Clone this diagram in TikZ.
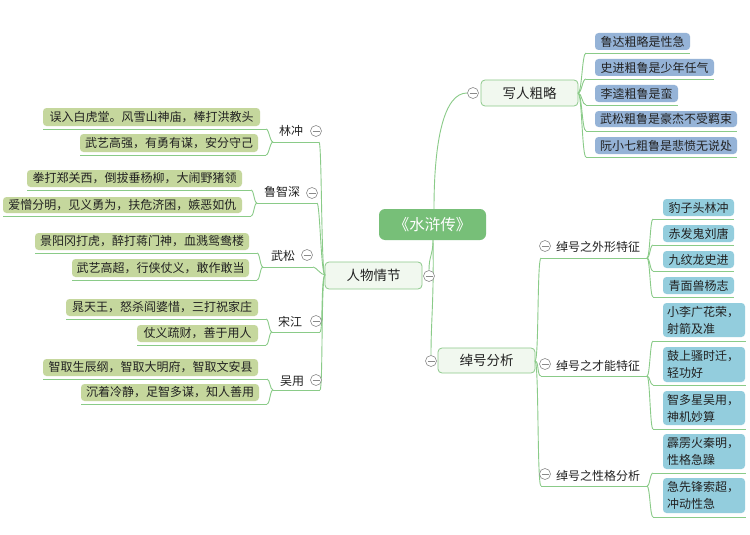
\documentclass[tikz,border=0pt]{standalone}
\usepackage{fontspec}
\setmainfont{Noto Sans CJK SC}
\usetikzlibrary{calc}
\definecolor{cCenter}{HTML}{77BF78}
\definecolor{cLine}{HTML}{8ACB88}
\definecolor{cMainFill}{HTML}{F1F8EF}
\definecolor{cMainBorder}{HTML}{8CC98A}
\definecolor{cLG}{HTML}{C5D79D}
\definecolor{cLB}{HTML}{95B3D7}
\definecolor{cLC}{HTML}{93CDDD}
\definecolor{cTxt}{HTML}{222222}
\definecolor{cFold}{HTML}{8A8A8A}
\tikzset{
  conn/.style={draw=cLine, line width=0.9pt},
  leaf/.style={rounded corners=3.5pt, inner sep=0pt, text=cTxt, font=\fontsize{12}{14}\selectfont},
  leaftwo/.style={leaf, align=left, text width=74pt, inner xsep=4pt, font=\fontsize{12}{17}\selectfont},
  mainbox/.style={draw=cMainBorder, fill=cMainFill, rounded corners=4pt, line width=0.8pt, inner sep=0pt, text=cTxt, font=\fontsize{13.5}{16}\selectfont},
  lbl/.style={inner sep=0pt, text=cTxt, font=\fontsize{12}{14}\selectfont},
  fold/.style={circle, draw=cFold, fill=white, line width=0.6pt, minimum size=11pt, inner sep=0pt},
}
% left leaf: name, x1, y1, x2, y2, underline y, underline end x, text
\newcommand\LeafL[8]{%
  \node[leaf, fill=cLG, minimum width={(#4-#2)*1pt}, minimum height={(#5-#3)*1pt}] (#1) at ({(#2+#4)/2},{(#3+#5)/2}) {#8};
  \coordinate (#1-s) at (#2,#6);
  \coordinate (#1-e) at (#7,#6);
  \draw[conn] (#1-s) -- (#1-e);
}
% right leaf: name, colour, x1, y1, x2, y2, underline y, underline start x, text
\newcommand\LeafR[9]{%
  \node[leaf, fill=#2, minimum width={(#5-#3)*1pt}, minimum height={(#6-#4)*1pt}] (#1) at ({(#3+#5)/2},{(#4+#6)/2}) {#9};
  \coordinate (#1-s) at (#8,#7);
  \coordinate (#1-e) at (#5,#7);
  \draw[conn] (#1-s) -- (#1-e);
}
\newcommand\LeafRR[9]{%
  \node[leaftwo, fill=#2, minimum width={(#5-#3)*1pt}, minimum height={(#6-#4)*1pt}] (#1) at ({(#3+#5)/2},{(#4+#6)/2}) {#9};
  \coordinate (#1-s) at (#8,#7);
  \coordinate (#1-e) at (#5+1,#7);
  \draw[conn] (#1-s) -- (#1-e);
}
% connector: from, to, dx of first control, dx of second control
\newcommand\Conn[4]{%
  \draw[conn] (#1) .. controls ($(#1)+(#3,0)$) and ($(#2)+(#4,0)$) .. (#2);
}
\newcommand\Fold[3]{%
  \node[fold] (#1) at (#2,#3) {};
  \draw[cFold, line width=0.6pt] ([xshift=-3.5pt]#1.center) -- ([xshift=3.5pt]#1.center);
}
\begin{document}
\begin{tikzpicture}[x=1pt,y=-1pt]
\useasboundingbox[fill=white] (0,0) rectangle (750,535);

% ---------- central and main branches ----------
\node[fill=cCenter, rounded corners=6pt, minimum width=107pt, minimum height=31pt, inner sep=0pt,
      text=white, font=\fontsize{15.5}{18}\selectfont] (N0) at (432.5,224.5) {《水浒传》};
\node[mainbox, minimum width=97pt, minimum height=26pt] (W) at (529.5,93) {写人粗略};
\node[mainbox, minimum width=97pt, minimum height=27pt] (P) at (373.5,275.5) {人物情节};
\node[mainbox, minimum width=97pt, minimum height=25pt] (Z) at (486.5,360.5) {绰号分析};

\coordinate (N0t) at (434,209);
\coordinate (N0b) at (433,240);
\coordinate (Win) at (467,93);
\coordinate (Pin) at (429,270);
\coordinate (Zin) at (431,355);
\draw[conn] (N0t) .. controls (434,140) and (444,93) .. (Win);
\draw[conn] (N0b) .. controls (433,255) and (429,256) .. (Pin);
\draw[conn] (N0b) .. controls (434,300) and (431,320) .. (Zin);

% ---------- 人物情节 (left) ----------
\coordinate (Pw) at (325,275);
\node[lbl] (lin) at (291,131) {林冲};
\node[lbl] (lu) at (282,192) {鲁智深};
\node[lbl] (ws) at (283,256) {武松};
\node[lbl] (sj) at (290,322) {宋江};
\node[lbl] (wy) at (292,381) {吴用};
\coordinate (lin-a) at (273,142); \coordinate (lin-b) at (319,142);
\coordinate (lu-a) at (257,203);  \coordinate (lu-b) at (317,203);
\coordinate (ws-a) at (263,267);  \coordinate (ws-b) at (313,267);
\coordinate (sj-a) at (272,332);  \coordinate (sj-b) at (320,332);
\coordinate (wy-a) at (273,390);  \coordinate (wy-b) at (320,390);
\foreach \n in {lin,lu,ws,sj,wy}{
  \draw[conn] (\n-a) -- (\n-b);
  \Conn{Pw}{\n-b}{-4}{3}
}

\LeafL{L1a}{43}{108}{260}{126}{129}{266}{误入白虎堂。风雪山神庙，棒打洪教头}
\LeafL{L1b}{80}{134}{258}{152}{155}{266}{武艺高强，有勇有谋，安分守己}
\LeafL{L2a}{27}{170}{242}{187}{190}{251}{拳打郑关西，倒拔垂杨柳，大闹野猪领}
\LeafL{L2b}{3}{197}{242}{213}{216}{251}{爱憎分明，见义勇为，扶危济困，嫉恶如仇}
\LeafL{L3a}{35}{233}{249}{250}{253}{257}{景阳冈打虎，醉打蒋门神，血溅鸳鸯楼}
\LeafL{L3b}{72}{259}{249}{277}{280}{257}{武艺高超，行侠仗义，敢作敢当}
\LeafL{L4a}{66}{299}{258}{316}{319}{266}{晁天王，怒杀阎婆惜，三打祝家庄}
\LeafL{L4b}{137}{325}{258}{342}{345}{266}{仗义疏财，善于用人}
\LeafL{L5a}{43}{359}{258}{376}{379}{267}{智取生辰纲，智取大明府，智取文安县}
\LeafL{L5b}{81}{384}{259}{401}{404}{267}{沉着冷静，足智多谋，知人善用}
\Conn{lin-a}{L1a-e}{-3}{3} \Conn{lin-a}{L1b-e}{-3}{3}
\Conn{lu-a}{L2a-e}{-3}{3}  \Conn{lu-a}{L2b-e}{-3}{3}
\Conn{ws-a}{L3a-e}{-3}{3}  \Conn{ws-a}{L3b-e}{-3}{3}
\Conn{sj-a}{L4a-e}{-3}{3}  \Conn{sj-a}{L4b-e}{-3}{3}
\Conn{wy-a}{L5a-e}{-3}{3}  \Conn{wy-a}{L5b-e}{-3}{3}

% ---------- 写人粗略 (right top) ----------
\coordinate (We) at (578,93);
\LeafR{R1}{cLB}{595}{33}{690}{50}{53}{586}{鲁达粗略是性急}
\LeafR{R2}{cLB}{595}{59}{714}{76}{79}{586}{史进粗鲁是少年任气}
\LeafR{R3}{cLB}{595}{85}{678}{102}{105}{586}{李逵粗鲁是蛮}
\LeafR{R4}{cLB}{595}{111}{737}{127}{131}{586}{武松粗鲁是豪杰不受羁束}
\LeafR{R5}{cLB}{595}{137}{737}{154}{157}{586}{阮小七粗鲁是悲愤无说处}
\foreach \n in {R1,R2,R3,R4,R5}{ \Conn{We}{\n-s}{4}{-4} }

% ---------- 绰号分析 (right bottom) ----------
\coordinate (Ze) at (535,361);
\node[lbl] (S1) at (598,247) {绰号之外形特征};
\node[lbl] (S2) at (598,366) {绰号之才能特征};
\node[lbl] (S3) at (598,476) {绰号之性格分析};
\coordinate (S1-a) at (541,258); \coordinate (S1-b) at (647,258);
\coordinate (S2-a) at (541,376); \coordinate (S2-b) at (647,376);
\coordinate (S3-a) at (541,486); \coordinate (S3-b) at (647,486);
\foreach \n in {S1,S2,S3}{
  \draw[conn] (\n-a) -- (\n-b);
  \Conn{Ze}{\n-a}{4}{-4}
}
\LeafR{C1}{cLC}{663}{199}{734}{216}{219}{653}{豹子头林冲}
\LeafR{C2}{cLC}{663}{225}{734}{242}{245}{653}{赤发鬼刘唐}
\LeafR{C3}{cLC}{663}{251}{734}{268}{271}{653}{九纹龙史进}
\LeafR{C4}{cLC}{663}{277}{734}{294}{297}{653}{青面兽杨志}
\foreach \n in {C1,C2,C3,C4}{ \Conn{S1-b}{\n-s}{3}{-3} }
\LeafRR{D1}{cLC}{663}{303}{745}{337}{341}{653}{小李广花荣，\\射箭及准}
\LeafRR{D2}{cLC}{663}{347}{745}{382}{385}{653}{鼓上骚时迁，\\轻功好}
\LeafRR{D3}{cLC}{663}{391}{745}{425}{429}{653}{智多星吴用，\\神机妙算}
\foreach \n in {D1,D2,D3}{ \Conn{S2-b}{\n-s}{3}{-3} }
\LeafRR{E1}{cLC}{663}{434}{745}{469}{473}{653}{霹雳火秦明，\\性格急躁}
\LeafRR{E2}{cLC}{663}{478}{745}{513}{517}{653}{急先锋索超，\\冲动性急}
\foreach \n in {E1,E2}{ \Conn{S3-b}{\n-s}{3}{-3} }

% ---------- fold markers ----------
\Fold{fW}{473}{93}
\Fold{fP}{429}{276}
\Fold{fZ}{431}{361}
\Fold{fLin}{316}{131}
\Fold{fLu}{312}{193}
\Fold{fWs}{307}{255}
\Fold{fSj}{316}{321}
\Fold{fWy}{316}{380}
\Fold{fS1}{545}{246}
\Fold{fS2}{545}{364}
\Fold{fS3}{545}{474}
\end{tikzpicture}
\end{document}
